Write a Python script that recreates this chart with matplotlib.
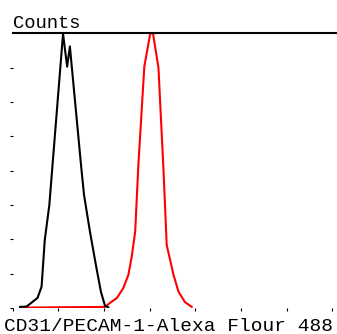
import matplotlib
matplotlib.use("Agg")
import matplotlib.pyplot as plt

# Гистограмма проточной цитометрии
# Изотипический контроль (чёрный)
ctrl_x = [0.16, 0.30, 0.54, 0.63, 0.70, 0.80, 0.87, 1.10, 1.19, 1.25, 1.50, 1.56, 1.69, 1.82, 1.93, 2.02, 2.09]
ctrl_y = [0.03, 0.04, 0.29, 0.62, 1.98, 3.00, 4.17, 7.99, 7.03, 7.62, 4.08, 3.29, 2.22, 1.25, 0.47, 0.06, 0.02]

# CD31 (красный)
cd31_x = [0.16, 2.02, 2.13, 2.28, 2.42, 2.53, 2.60, 2.68, 2.75, 2.88, 3.01, 3.07, 3.19, 3.30, 3.37, 3.52, 3.63, 3.77, 3.92]
cd31_y = [0.01, 0.03, 0.15, 0.29, 0.58, 0.96, 1.46, 2.22, 4.17, 7.03, 8.00, 8.00, 7.00, 4.02, 1.84, 0.96, 0.47, 0.17, 0.03]

x_ticks = [0, 1, 2, 3, 4, 5, 6, 7]
y_ticks = [0, 1, 2, 3, 4, 5, 6, 7]

y_label = "Counts"
x_label = "CD31/PECAM-1-Alexa Flour 488"

fig = plt.figure(figsize=(3.37, 3.34), dpi=100)
ax = fig.add_axes([0.038, 0.078, 0.962, 0.822])

ax.plot(cd31_x, cd31_y, color="#ff0000", lw=1.5, zorder=2)
ax.plot(ctrl_x, ctrl_y, color="black", lw=1.5, zorder=3)

ax.set_xlim(0, 7.1)
ax.set_ylim(0, 8)

for s in ["left", "right", "bottom"]:
    ax.spines[s].set_visible(False)
ax.spines["top"].set_linewidth(1.5)
ax.spines["top"].set_color("black")

ax.set_xticks(x_ticks)
ax.set_yticks(y_ticks)
ax.set_xticklabels([])
ax.set_yticklabels([])
ax.tick_params(axis="both", direction="out", length=2.5, width=0.8, color="black")

fig.text(13 / 337, 1 - 28 / 334, y_label, family="Liberation Mono", fontsize=13.5, va="baseline", ha="left")
fig.text(169 / 337, 1 - 331 / 334, x_label, family="Liberation Mono", fontsize=14, va="baseline", ha="center")

fig.savefig("out.png", dpi=100)
